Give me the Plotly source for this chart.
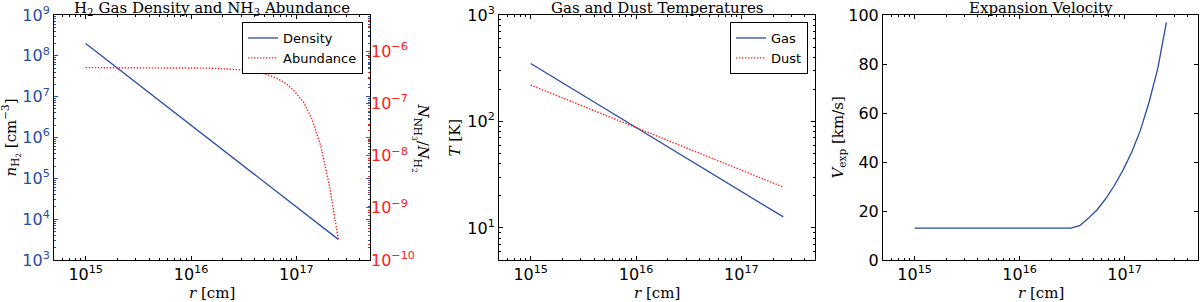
import math
import plotly.graph_objects as go

# ---------------- data ----------------
r_grid = [1.00e15, 1.21e15, 1.46e15, 1.77e15, 2.14e15, 2.59e15, 3.14e15, 3.79e15,
          4.59e15, 5.55e15, 6.71e15, 8.12e15, 9.83e15, 1.19e16, 1.44e16, 1.74e16,
          2.10e16, 2.55e16, 3.08e16, 3.73e16, 4.51e16, 5.45e16, 6.60e16, 7.98e16,
          9.66e16, 1.17e17, 1.41e17, 1.71e17, 2.07e17, 2.50e17]

abundance = [4.9e-7, 4.9e-7, 4.9e-7, 4.9e-7, 4.9e-7, 4.9e-7, 4.9e-7, 4.9e-7,
             4.9e-7, 4.9e-7, 4.9e-7, 4.9e-7, 4.9e-7, 4.82e-7, 4.79e-7, 4.73e-7,
             4.67e-7, 4.56e-7, 4.41e-7, 4.20e-7, 3.91e-7, 3.52e-7, 3.02e-7, 2.42e-7,
             1.70e-7, 1.06e-7, 5.0e-8, 1.51e-8, 2.5e-9, 2.5e-10]

velocity = [13.0, 13.0, 13.0, 13.0, 13.0, 13.0, 13.0, 13.0, 13.0, 13.0,
            13.0, 13.0, 13.0, 13.0, 13.0, 13.0, 13.0, 13.0, 13.0, 14.0,
            17.0, 20.4, 25.0, 30.4, 36.7, 44.1, 52.8, 64.4, 78.2, 97.0]

r_ends = [1.0e15, 2.5e17]
density = [2.0e8, 3.2e3]
t_gas = [350.0, 12.7]
t_dust = [220.0, 24.2]

x_tick_exps = [15, 16, 17]
dens_tick_exps = [3, 4, 5, 6, 7, 8, 9]
abund_tick_exps = [-10, -9, -8, -7, -6]
temp_tick_exps = [1, 2, 3]
vel_ticks = [0, 20, 40, 60, 80, 100]

titles = ["H<sub>2</sub> Gas Density and NH<sub>3</sub> Abundance",
          "Gas and Dust Temperatures",
          "Expansion Velocity"]

# ---------------- styles ----------------
W, H = 1200, 302
BLUE = "#2a4ca6"
RED = "#ff2020"
SANS = "DejaVu Sans"
SERIF = "DejaVu Serif"
DOT = "1.4px,1.6px"
top_px, bot_px = 15, 260
ydom = [(H - bot_px) / H, (H - top_px) / H]
panels_px = [(54, 370), (499, 815), (883, 1198)]
xdoms = [[a / W, b / W] for a, b in panels_px]


def pow_labels(exps):
    return ([10.0 ** e for e in exps],
            ["10<sup>%s</sup>" % (str(e).replace("-", "−")) for e in exps])


fig = go.Figure()

fig.add_trace(go.Scatter(x=r_ends, y=density, mode="lines", name="Density",
                         line=dict(color=BLUE, width=1.3), xaxis="x", yaxis="y",
                         legend="legend"))
fig.add_trace(go.Scatter(x=r_grid, y=abundance, mode="lines", name="Abundance",
                         line=dict(color=RED, width=1.4, dash=DOT), xaxis="x", yaxis="y2",
                         legend="legend"))
fig.add_trace(go.Scatter(x=r_ends, y=t_gas, mode="lines", name="Gas",
                         line=dict(color=BLUE, width=1.3), xaxis="x2", yaxis="y3",
                         legend="legend2"))
fig.add_trace(go.Scatter(x=r_ends, y=t_dust, mode="lines", name="Dust",
                         line=dict(color=RED, width=1.4, dash=DOT), xaxis="x2", yaxis="y3",
                         legend="legend2"))
fig.add_trace(go.Scatter(x=r_grid, y=velocity, mode="lines", name="Vexp",
                         line=dict(color=BLUE, width=1.3), xaxis="x3", yaxis="y4",
                         showlegend=False))

tickfont = dict(family=SANS, size=16, color="black")

xtv, xtt = pow_labels(x_tick_exps)


def xaxis(dom, anchor):
    return dict(domain=dom, anchor=anchor, type="log", automargin=False,
                range=[math.log10(5e14), math.log10(5e17)],
                tickmode="array", tickvals=xtv, ticktext=xtt,
                showgrid=False, zeroline=False,
                showline=True, linecolor="black", linewidth=1, mirror="ticks",
                ticks="inside", ticklen=4, tickcolor="black", tickfont=tickfont,
                minor=dict(ticks="inside", ticklen=2, tickcolor="black", showgrid=False,
                           dtick="D1"))


dtv, dtt = pow_labels(dens_tick_exps)
atv, att = pow_labels(abund_tick_exps)
ttv, ttt = pow_labels(temp_tick_exps)

legend_style = dict(xanchor="right", yanchor="top", bgcolor="white",
                    bordercolor="black", borderwidth=1, itemwidth=30,
                    font=dict(family=SANS, size=13, color="black"), tracegroupgap=0)

layout = dict(
    width=W, height=H, margin=dict(l=0, r=0, t=0, b=0, autoexpand=False),
    paper_bgcolor="white", plot_bgcolor="white",
    xaxis=xaxis(xdoms[0], "y"),
    xaxis2=xaxis(xdoms[1], "y3"),
    xaxis3=xaxis(xdoms[2], "y4"),
    yaxis=dict(domain=ydom, anchor="x", type="log", range=[3, 9], automargin=False,
               tickmode="array", tickvals=dtv, ticktext=dtt,
               showgrid=False, zeroline=False,
               showline=True, linecolor="black", linewidth=1, mirror="ticks",
               ticks="inside", ticklen=4, tickcolor=BLUE,
               tickfont=dict(family=SANS, size=16, color=BLUE),
               minor=dict(ticks="inside", ticklen=2, tickcolor=BLUE, showgrid=False,
                          dtick="D1")),
    yaxis2=dict(overlaying="y", anchor="x", side="right", type="log", automargin=False,
                range=[-10, math.log10(5e-6)],
                tickmode="array", tickvals=atv, ticktext=att,
                showgrid=False, zeroline=False, showline=False,
                ticks="inside", ticklen=4, tickcolor=RED,
                tickfont=dict(family=SANS, size=16, color=RED),
                minor=dict(ticks="inside", ticklen=2, tickcolor=RED, showgrid=False,
                           dtick="D1")),
    yaxis3=dict(domain=ydom, anchor="x2", type="log", range=[math.log10(5), 3],
                automargin=False,
                tickmode="array", tickvals=ttv, ticktext=ttt,
                showgrid=False, zeroline=False,
                showline=True, linecolor="black", linewidth=1, mirror="ticks",
                ticks="inside", ticklen=4, tickcolor="black", tickfont=tickfont,
                minor=dict(ticks="inside", ticklen=2, tickcolor="black", showgrid=False,
                           dtick="D1")),
    yaxis4=dict(domain=ydom, anchor="x3", type="linear", range=[0, 100], automargin=False,
                tickmode="array", tickvals=vel_ticks,
                showgrid=False, zeroline=False,
                showline=True, linecolor="black", linewidth=1, mirror="ticks",
                ticks="inside", ticklen=4, tickcolor="black", tickfont=tickfont),
    legend=dict(x=363 / W, y=(H - 22) / H, **legend_style),
    legend2=dict(x=808 / W, y=(H - 22) / H, **legend_style),
    showlegend=True,
)
fig.update_layout(**layout)

ann = []
for (a, b), t in zip(panels_px, titles):
    cx = (a + b) / 2 / W
    ann.append(dict(text=t, x=cx, y=(H - 8.5) / H, xref="paper", yref="paper",
                    xanchor="center", yanchor="middle", showarrow=False,
                    font=dict(family=SERIF, size=15, color="black")))
    ann.append(dict(text="<i>r</i> [cm]", x=cx, y=(H - 293) / H, xref="paper", yref="paper",
                    xanchor="center", yanchor="middle", showarrow=False,
                    font=dict(family=SERIF, size=15, color="black")))

ymid = (1 - (top_px + bot_px) / 2 / H)
ylabels = [
    (12, "<i>n</i><sub>H<sub>2</sub></sub> [cm<sup>−3</sup>]", -90),
    (421, "<i>N</i><sub>NH<sub>3</sub></sub>/<i>N</i><sub>H<sub>2</sub></sub>", 90),
    (455, "<i>T</i> [K]", -90),
    (838, "<i>V</i><sub>exp</sub> [km/s]", -90),
]
for px, t, ang in ylabels:
    ann.append(dict(text=t, x=px / W, y=ymid, xref="paper", yref="paper",
                    xanchor="center", yanchor="middle", showarrow=False, textangle=ang,
                    font=dict(family=SERIF, size=15, color="black")))

fig.update_layout(annotations=ann)
fig.write_html("out.html", config={"displayModeBar": False},
               post_script="document.body.style.margin='0';document.body.style.padding='0';"
                           "document.body.style.overflow='hidden';")
